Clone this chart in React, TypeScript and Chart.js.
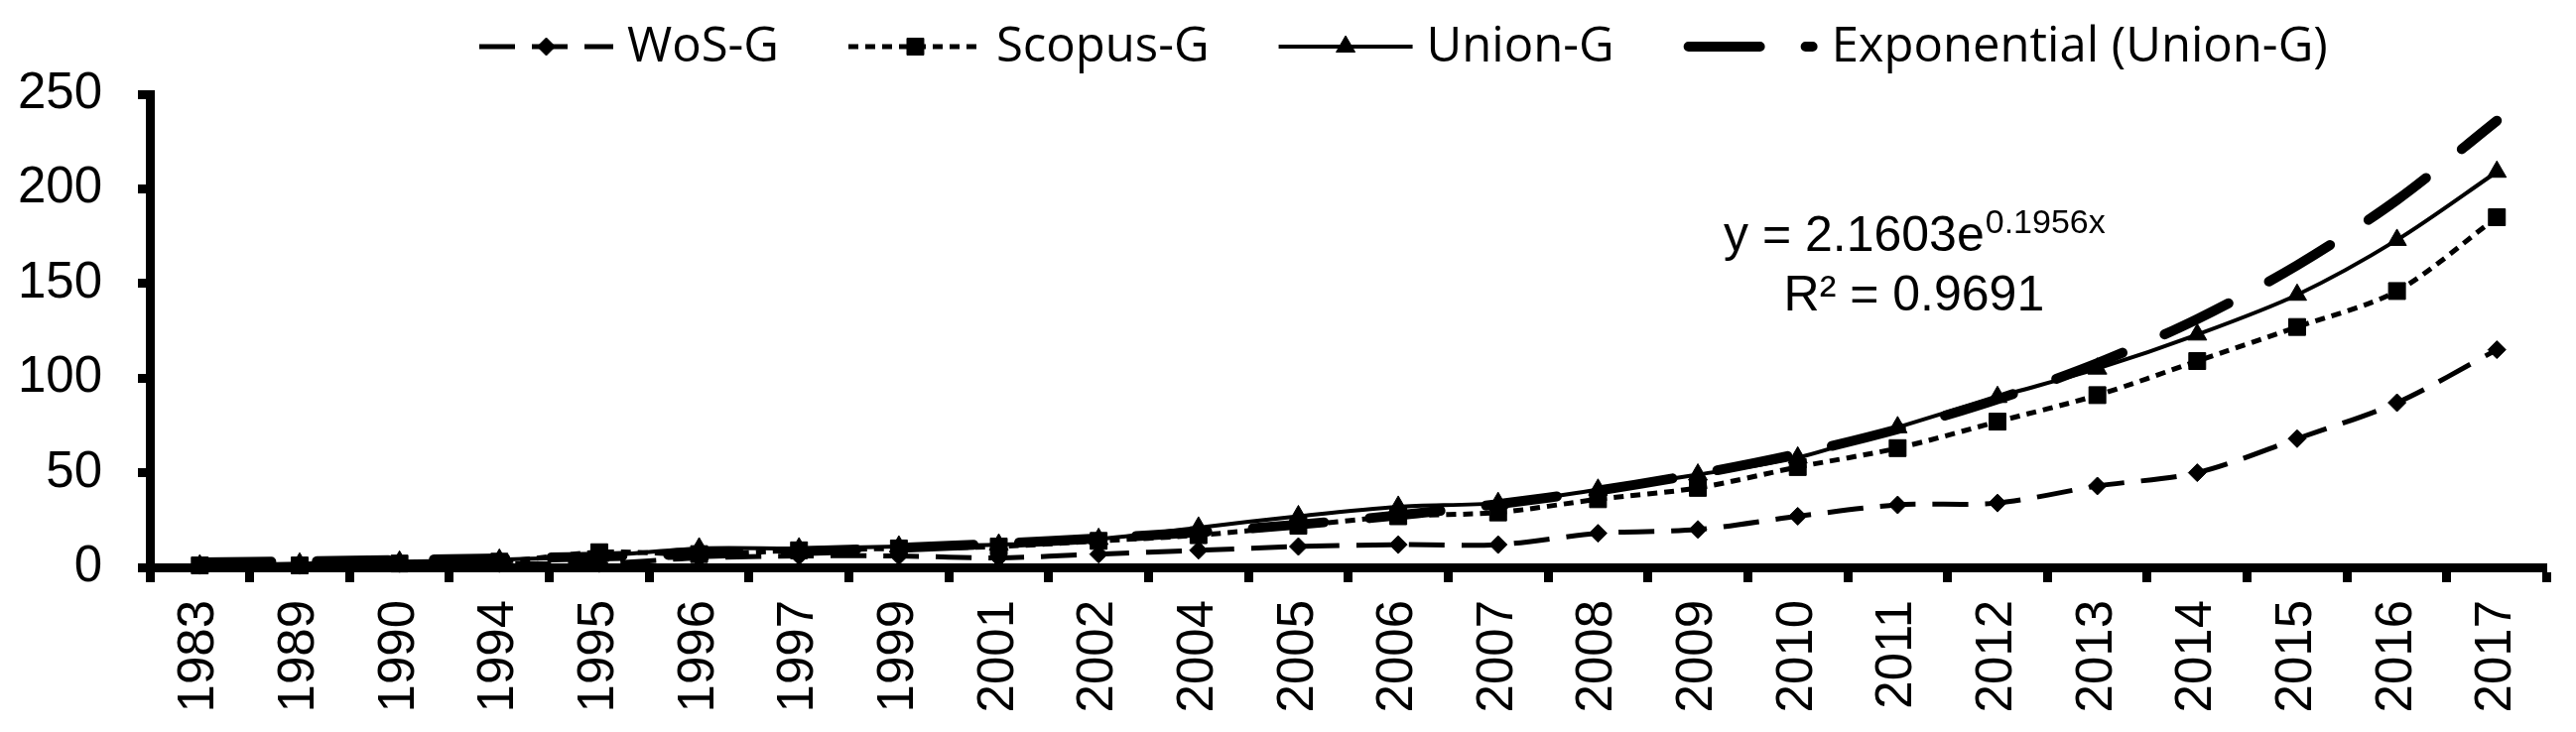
import { useEffect, useRef } from 'react';
import { Chart, registerables } from 'chart.js';
import { drawPoint } from 'chart.js/helpers';

Chart.register(...registerables);

const YEARS = [
  '1983', '1989', '1990', '1994', '1995', '1996', '1997', '1999', '2001', '2002', '2004', '2005',
  '2006', '2007', '2008', '2009', '2010', '2011', '2012', '2013', '2014', '2015', '2016', '2017',
];
const WOS_G    = [1, 1, 2, 2, 2, 5, 6, 6, 5, 7, 9, 11, 12, 12, 18, 20, 27, 33, 34, 43, 50, 68, 87, 115];
const SCOPUS_G = [1, 1, 2, 3, 8, 7, 9, 10, 11, 14, 17, 22, 27, 29, 36, 42, 53, 63, 77, 91, 109, 127, 146, 185];
const UNION_G  = [1, 2, 3, 4, 6, 10, 10, 11, 12, 15, 21, 27, 32, 34, 41, 49, 58, 74, 90, 105, 123, 144, 173, 209];
// trendline (y = 2.1603e^0.1956x)
const EXP_UNION_G = [2.6, 3.2, 3.9, 4.7, 5.7, 7.0, 8.5, 10.3, 12.6, 15.3, 18.6, 22.6, 27.5, 33.4, 40.6, 49.4, 60.0, 73.0, 88.8, 107.9, 131.2, 159.6, 194.1, 236.0];
const Y_MIN = 0;
const Y_MAX = 250;
const Y_STEP = 50;

const EQUATION = 'y = 2.1603e';
const EQUATION_EXP = '0.1956x';
const R_SQUARED = 'R² = 0.9691';

const AXIS_FONT = { family: '"Liberation Sans", Arial, sans-serif', size: 51 };
const LEGEND_FONT = '49px "Open Sans", "Noto Sans", sans-serif';

// Legend drawn as line + marker samples, like the spreadsheet original
const lineLegend = {
  id: 'lineLegend',
  afterDraw(chart: Chart) {
    const { ctx } = chart;
    const y = 47;
    const len = 135;
    let x = 483;
    ctx.save();
    ctx.font = LEGEND_FONT;
    chart.data.datasets.forEach((ds: any) => {
      ctx.strokeStyle = ds.borderColor;
      ctx.lineWidth = ds.borderWidth;
      ctx.lineCap = ds.borderCapStyle || 'butt';
      ctx.setLineDash(ds.borderDash || []);
      const cap = ctx.lineCap === 'round' ? ds.borderWidth / 2 : 0;
      ctx.beginPath();
      ctx.moveTo(x + cap, y);
      ctx.lineTo(x + len - cap, y);
      ctx.stroke();
      ctx.setLineDash([]);
      if (ds.pointRadius > 0) {
        ctx.fillStyle = ds.pointBackgroundColor;
        ctx.lineWidth = 1;
        drawPoint(ctx, { pointStyle: ds.pointStyle, radius: ds.pointRadius, rotation: 0, borderWidth: 1 }, x + len / 2, y);
      }
      x += len + 14;
      ctx.fillStyle = '#000';
      ctx.textAlign = 'left';
      ctx.textBaseline = 'alphabetic';
      ctx.fillText(ds.label, x, 62);
      x += ctx.measureText(ds.label).width + 70;
    });
    ctx.restore();
  },
};

// Trendline equation label
const equationLabel = {
  id: 'equationLabel',
  afterDraw(chart: Chart) {
    const { ctx } = chart;
    const xs = chart.scales.x;
    const ys = chart.scales.y;
    const cx = xs.left + (xs.right - xs.left) * 0.736;
    const y1 = ys.getPixelForValue(167);
    const y2 = ys.getPixelForValue(136);
    ctx.save();
    ctx.fillStyle = '#000';
    ctx.textBaseline = 'alphabetic';
    ctx.textAlign = 'left';
    const mainFont = '50px "Liberation Sans", Arial, sans-serif';
    const supFont = '34px "Liberation Sans", Arial, sans-serif';
    ctx.font = mainFont;
    const wMain = ctx.measureText(EQUATION).width;
    ctx.font = supFont;
    const wSup = ctx.measureText(EQUATION_EXP).width;
    const x0 = cx - (wMain + wSup) / 2;
    ctx.font = mainFont;
    ctx.fillText(EQUATION, x0, y1);
    ctx.font = supFont;
    ctx.fillText(EQUATION_EXP, x0 + wMain + 1, y1 - 18);
    ctx.font = mainFont;
    ctx.textAlign = 'center';
    ctx.fillText(R_SQUARED, cx, y2);
    ctx.restore();
  },
};

export default function App() {
  const ref = useRef<HTMLCanvasElement>(null);
  const chart = useRef<Chart | null>(null);

  useEffect(() => {
    document.body.style.margin = '0';
    if (!ref.current) return;
    const ctx = ref.current.getContext('2d')!;

    chart.current?.destroy();
    chart.current = new Chart(ctx, {
      type: 'line',
      data: {
        labels: YEARS,
        datasets: [
          {
            label: 'WoS-G',
            data: WOS_G,
            borderColor: '#000',
            backgroundColor: '#000',
            borderWidth: 5,
            borderDash: [36, 17],
            pointStyle: 'rectRot',
            pointRadius: 9,
            pointBackgroundColor: '#000',
            pointBorderColor: '#000',
            pointBorderWidth: 1,
            tension: 0.3,
            clip: false,
          },
          {
            label: 'Scopus-G',
            data: SCOPUS_G,
            borderColor: '#000',
            backgroundColor: '#000',
            borderWidth: 5,
            borderDash: [10, 7],
            pointStyle: 'rect',
            pointRadius: 12,
            pointBackgroundColor: '#000',
            pointBorderColor: '#000',
            pointBorderWidth: 1,
            tension: 0.3,
            clip: false,
          },
          {
            label: 'Union-G',
            data: UNION_G,
            borderColor: '#000',
            backgroundColor: '#000',
            borderWidth: 4,
            pointStyle: 'triangle',
            pointRadius: 11,
            pointBackgroundColor: '#000',
            pointBorderColor: '#000',
            pointBorderWidth: 1,
            tension: 0.3,
            clip: false,
          },
          {
            label: 'Exponential (Union-G)',
            data: EXP_UNION_G,
            borderColor: '#000',
            backgroundColor: '#000',
            borderWidth: 10,
            borderDash: [72, 46],
            borderCapStyle: 'round',
            pointRadius: 0,
            tension: 0.3,
            clip: false,
          },
        ],
      },
      options: {
        responsive: false,
        devicePixelRatio: 1,
        animation: false,
        layout: { padding: { top: 95, right: 26, left: 0, bottom: 0 } },
        plugins: {
          legend: { display: false },
          tooltip: { enabled: false },
        },
        scales: {
          x: {
            type: 'category',
            offset: true,
            grid: {
              offset: true,
              drawOnChartArea: false,
              drawTicks: true,
              tickLength: 15,
              tickWidth: 9,
              tickColor: '#000',
            },
            border: { display: true, color: '#000', width: 9 },
            ticks: {
              color: '#000',
              font: AXIS_FONT,
              minRotation: 90,
              maxRotation: 90,
              autoSkip: false,
              padding: 18,
            },
            afterFit(s: any) { s.height = 166; },
          },
          y: {
            min: Y_MIN,
            max: Y_MAX,
            grid: {
              drawOnChartArea: false,
              drawTicks: true,
              tickLength: 12,
              tickWidth: 9,
              tickColor: '#000',
            },
            border: { display: true, color: '#000', width: 9 },
            ticks: {
              stepSize: Y_STEP,
              color: '#000',
              font: AXIS_FONT,
              padding: 36,
            },
            afterFit(s: any) { s.width = 151; },
          },
        },
      },
      plugins: [lineLegend, equationLabel],
    });

    return () => { chart.current?.destroy(); };
  }, []);

  return <canvas ref={ref} width={2596} height={738} style={{ display: 'block' }} />;
}
